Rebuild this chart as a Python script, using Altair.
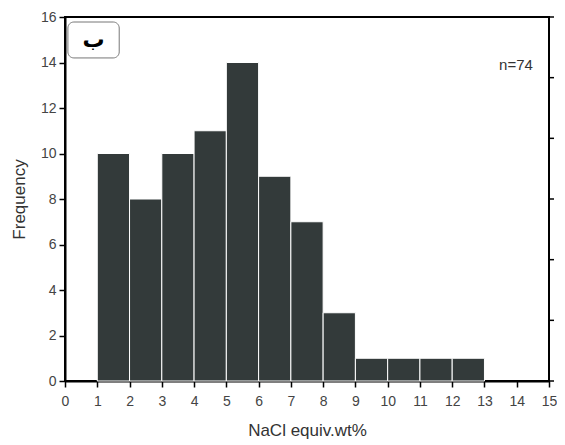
import altair as alt
import pandas as pd

bin_start = [1, 2, 3, 4, 5, 6, 7, 8, 9, 10, 11, 12]
bin_end = [2, 3, 4, 5, 6, 7, 8, 9, 10, 11, 12, 13]
counts = [10, 8, 10, 11, 14, 9, 7, 3, 1, 1, 1, 1]
x_ticks = list(range(0, 16))
y_ticks = list(range(0, 17, 2))
right_ticks = [0, 16 / 6, 32 / 6, 8, 64 / 6, 80 / 6, 16]

df = pd.DataFrame({"start": bin_start, "end": bin_end, "count": counts})

FONT = "Liberation Sans"
W, H = 484, 364

xscale = alt.Scale(domain=[0, 15], nice=False, zero=False)
yscale = alt.Scale(domain=[0, 16], nice=False)

xaxis = alt.Axis(values=x_ticks, title="NaCl equiv.wt%", labelPadding=7,
                 titlePadding=14, labelFlush=False, grid=False,
                 labelFontSize=14, titleFontSize=17)
yaxis = alt.Axis(values=y_ticks, title="Frequency", labelPadding=3,
                 titlePadding=12, grid=False, labelFontSize=14, titleFontSize=17)

bars = alt.Chart(df).mark_rect(color="#333a3a", stroke="white", strokeWidth=1).encode(
    x=alt.X("start:Q", scale=xscale, axis=xaxis),
    x2="end:Q",
    y=alt.Y("count:Q", scale=yscale, axis=yaxis),
    y2=alt.datum(0),
)

rt = pd.DataFrame({"v": right_ticks})
right = alt.Chart(rt).mark_rule(color="black", strokeWidth=1.5).encode(
    y=alt.Y("v:Q", scale=yscale, axis=yaxis),
    x=alt.value(W), x2=alt.value(W + 5),
)

box_df = pd.DataFrame({"x": [0.09], "x2": [1.68], "y": [15.78], "y2": [14.2],
                       "mid": [0.885], "ymid": [14.99], "t": ["ب"]})
box = alt.Chart(box_df).mark_rect(fill="white", stroke="#777", strokeWidth=1,
                                  cornerRadius=6).encode(
    x=alt.X("x:Q", scale=xscale, axis=xaxis), x2="x2:Q",
    y=alt.Y("y:Q", scale=yscale, axis=yaxis), y2="y2:Q")
box_text = alt.Chart(box_df).mark_text(fontSize=22, font="DejaVu Sans", color="black",
                                        fontWeight="bold").encode(
    x=alt.X("mid:Q", scale=xscale, axis=xaxis),
    y=alt.Y("ymid:Q", scale=yscale, axis=yaxis),
    text="t:N")

n_df = pd.DataFrame({"x": [14.5], "y": [13.9], "t": ["n=74"]})
n_text = alt.Chart(n_df).mark_text(fontSize=15, font=FONT, color="#333", align="right").encode(
    x=alt.X("x:Q", scale=xscale, axis=xaxis), y=alt.Y("y:Q", scale=yscale, axis=yaxis),
    text="t:N")

chart = alt.layer(bars, right, box, box_text, n_text).properties(
    width=W, height=H,
    background="white",
    autosize=alt.AutoSizeParams(type="none"),
    padding={"left": 57, "top": 9, "right": 8, "bottom": 60},
).configure_view(stroke="black", strokeWidth=2).configure_axis(
    grid=False, domainColor="black", domainWidth=2, tickColor="black", tickWidth=1.5,
    tickSize=6, labelFontSize=14, labelColor="#444", titleFontSize=17, titleColor="#333",
    titleFontWeight="normal", labelFont=FONT, titleFont=FONT,
)

chart.save("out.html", embed_options={"renderer": "svg", "actions": False})
